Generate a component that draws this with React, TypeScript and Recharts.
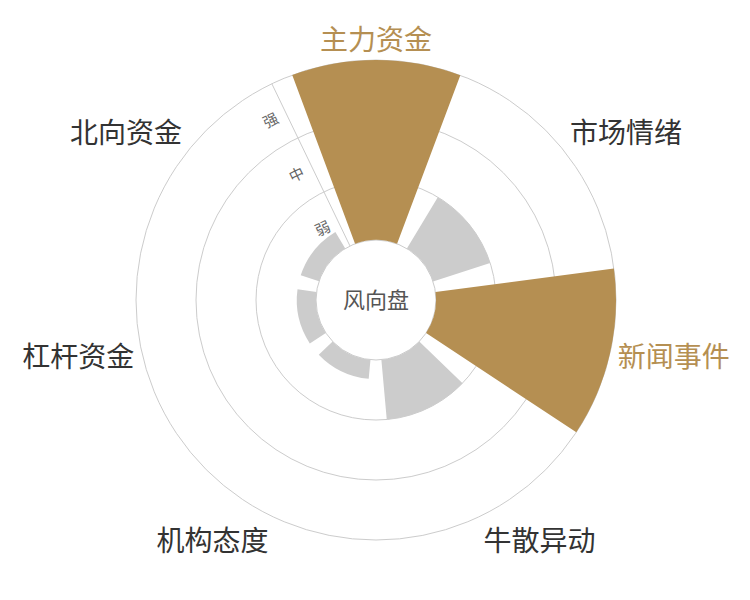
import React from 'react';
import {
  RadialBarChart,
  RadialBar,
  PolarGrid,
  PolarAngleAxis,
  PolarRadiusAxis,
  Cell,
} from 'recharts';

// ---- data ----
const categories = ['主力资金', '市场情绪', '新闻事件', '牛散异动', '机构态度', '杠杆资金', '北向资金'];
const strengthValues = [3, 1, 3, 1, 0.32, 0.32, 0.32];
const highlighted = [true, false, true, false, false, false, false];
const levelLabels = ['弱', '中', '强'];
const levelTickValues = [0.5, 1.5, 2.5];
const gridValues = [0, 1, 2, 3];
const centerTitle = '风向盘';

// ---- layout / style ----
const WIDTH = 734;
const HEIGHT = 584;
const CX = 368;
const CY = 292;
const INNER = 60;
const OUTER = 240;
const MAX = 3;
const SECTOR = 360 / categories.length;
// recharts draws each band starting at its tick and sweeping counter-clockwise,
// so shift the start by half a band to centre the first category at the top
const START_ANGLE = 90 - SECTOR / 2;
const END_ANGLE = START_ANGLE - 360;
const AXIS_ANGLE = 90 + SECTOR / 2;
const LABEL_GAP = 8;
const GOLD = '#B58F52';
const GRAY = '#CCCCCC';
const LINE = '#CCCCCC';
const FONT = '"Noto Sans CJK SC", "Noto Sans", sans-serif';

const data = categories.map((name, i) => ({ name, value: strengthValues[i] }));
const gridRadii = gridValues.map((v) => INNER + ((OUTER - INNER) * v) / MAX);
// axis line spans the extent of the ticks, so include the domain ends (unlabelled)
const radiusTicks = [0, ...levelTickValues, MAX];

const AngleTick = (props: any) => {
  const { payload } = props;
  const cx = props.cx ?? CX;
  const cy = props.cy ?? CY;
  const radius = (props.radius ?? OUTER) + LABEL_GAP;
  const angle = payload.coordinate + SECTOR / 2;
  const rad = (angle * Math.PI) / 180;
  const c = Math.cos(rad);
  const s = Math.sin(rad);
  const x = cx + radius * c;
  const y = cy - radius * s;
  const textAnchor = Math.abs(c) < 1e-3 ? 'middle' : c > 0 ? 'start' : 'end';
  const dy = Math.abs(s) < 0.3 ? 12 : s > 0 ? -2 : 28;
  const idx = categories.indexOf(payload.value);
  return (
    <text
      x={x}
      y={y}
      dy={dy}
      textAnchor={textAnchor}
      fontSize={28}
      fontFamily={FONT}
      fill={highlighted[idx] ? GOLD : '#333333'}
    >
      {payload.value}
    </text>
  );
};

const RadiusTick = (props: any) => {
  const { x, y, payload, transform } = props;
  const i = levelTickValues.indexOf(payload.value);
  if (i < 0) return <g />;
  return (
    <text
      x={x}
      y={y}
      transform={transform}
      dx={-17}
      dy={8}
      textAnchor="middle"
      fontSize={15}
      fontFamily={FONT}
      fill="#666666"
    >
      {levelLabels[i]}
    </text>
  );
};

export default function App() {
  return (
    <div style={{ width: WIDTH, height: HEIGHT, fontFamily: FONT }}>
      <RadialBarChart
        width={WIDTH}
        height={HEIGHT}
        data={data}
        layout="centric"
        cx={CX}
        cy={CY}
        innerRadius={INNER}
        outerRadius={OUTER}
        startAngle={START_ANGLE}
        endAngle={END_ANGLE}
        margin={{ top: 0, right: 0, bottom: 0, left: 0 }}
      >
        <PolarGrid gridType="circle" radialLines={false} polarRadius={gridRadii} stroke={LINE} />
        <PolarAngleAxis
          type="category"
          dataKey="name"
          axisLine={false}
          tickLine={false}
          tick={AngleTick}
        />
        <PolarRadiusAxis
          type="number"
          domain={[0, MAX]}
          angle={AXIS_ANGLE}
          ticks={radiusTicks}
          axisLine={{ stroke: LINE }}
          tick={RadiusTick}
        />
        <RadialBar dataKey="value" isAnimationActive={false}>
          {data.map((d, i) => (
            <Cell key={d.name} fill={highlighted[i] ? GOLD : GRAY} />
          ))}
        </RadialBar>
        <text
          x={CX}
          y={CY}
          dy={8}
          textAnchor="middle"
          fontSize={22}
          fontFamily={FONT}
          fill="#555555"
        >
          {centerTitle}
        </text>
      </RadialBarChart>
    </div>
  );
}
